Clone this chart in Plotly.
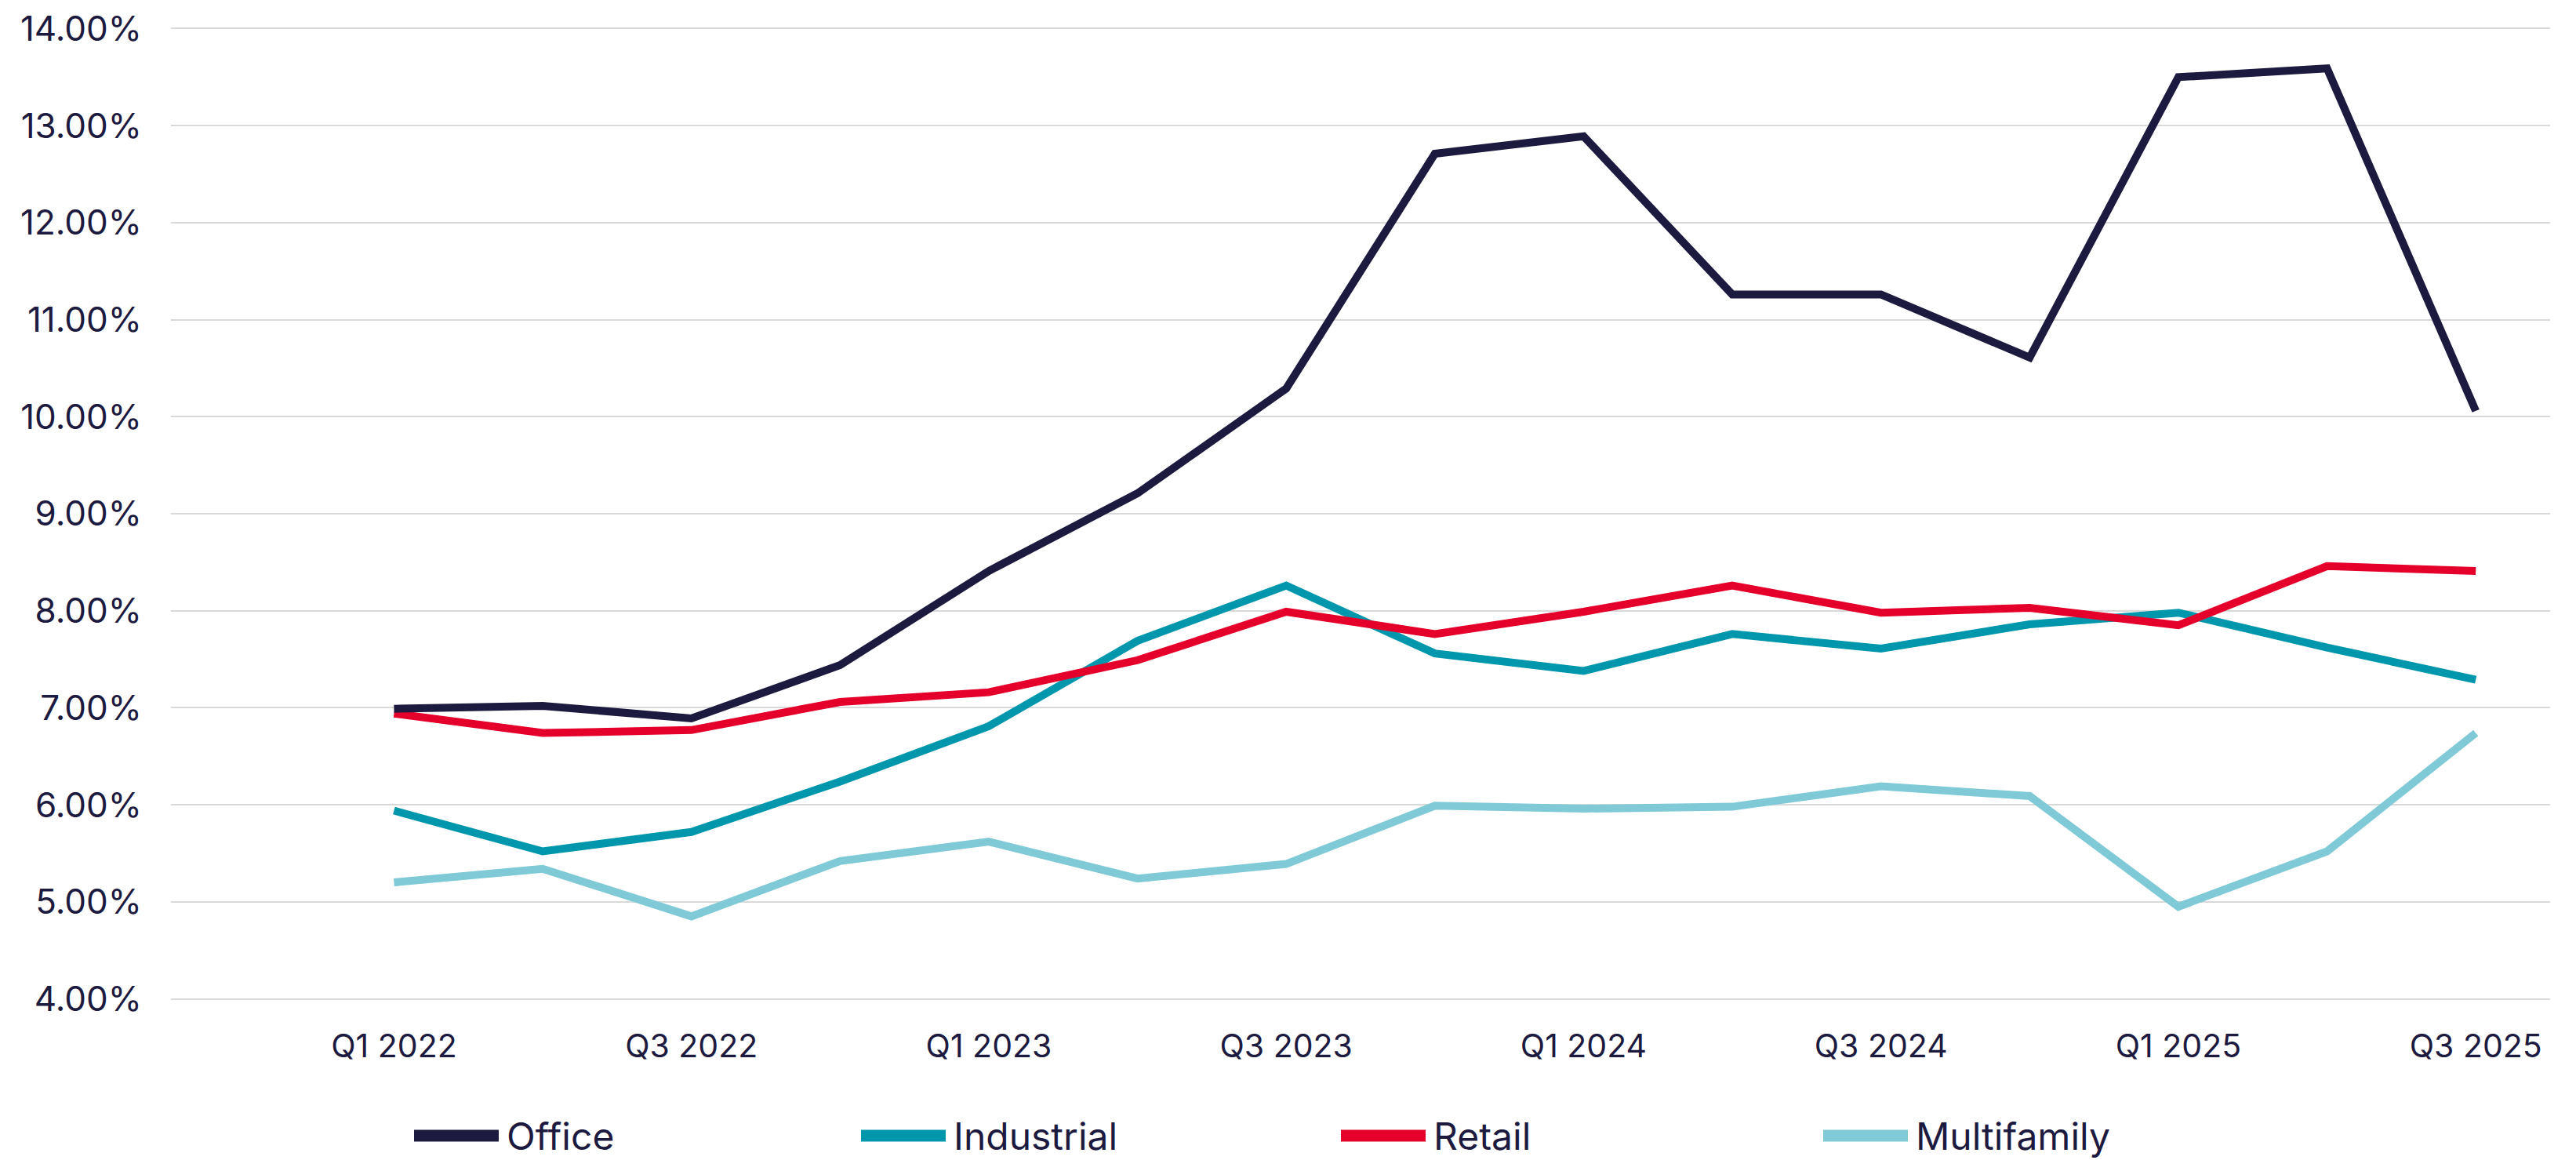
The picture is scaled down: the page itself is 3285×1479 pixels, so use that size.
import plotly.graph_objects as go

quarters = [
    "Q1 2022", "Q2 2022", "Q3 2022", "Q4 2022",
    "Q1 2023", "Q2 2023", "Q3 2023", "Q4 2023",
    "Q1 2024", "Q2 2024", "Q3 2024", "Q4 2024",
    "Q1 2025", "Q2 2025", "Q3 2025",
]
office = [6.99, 7.02, 6.89, 7.44, 8.41, 9.21, 10.29, 12.71, 12.89, 11.26, 11.26, 10.61, 13.50, 13.59, 10.06]
industrial = [5.94, 5.52, 5.72, 6.24, 6.81, 7.69, 8.26, 7.56, 7.38, 7.76, 7.61, 7.86, 7.98, 7.62, 7.29]
retail = [6.94, 6.74, 6.77, 7.06, 7.16, 7.49, 7.99, 7.76, 7.99, 8.26, 7.98, 8.03, 7.85, 8.46, 8.41]
multifamily = [5.20, 5.34, 4.85, 5.42, 5.62, 5.24, 5.39, 5.99, 5.96, 5.98, 6.19, 6.09, 4.95, 5.52, 6.74]

tick_labels = quarters[::2]
y_ticks = list(range(4, 15))
y_tick_text = [f"{v:.2f}%" for v in y_ticks]

SERIES = [
    ("Office", office, "#1d1a3f"),
    ("Industrial", industrial, "#0097ad"),
    ("Retail", retail, "#e4002b"),
    ("Multifamily", multifamily, "#7fcad6"),
]

TEXT_COLOR = "#1d1a3f"
FONT = "Inter"

W, H = 3285, 1479
OFF = 8  # default body margin of the page
# plot area edges as they should land in the screenshot
P_L, P_R, P_T, P_B = 218, 3252, 34, 1276

fig = go.Figure()

# draw order: light series first, office last so it sits on top
for name, vals, color in [SERIES[3], SERIES[1], SERIES[2], SERIES[0]]:
    fig.add_trace(go.Scatter(
        x=quarters, y=vals, name=name, mode="lines",
        line=dict(color=color, width=10),
        showlegend=False,
    ))

# manual legend: long line swatch + label, positions in screenshot pixels
legend_x = [528, 1098, 1710, 2325]
legend_y = 1448
swatch_len = 108


def px_x(p):
    return (p - P_L) / (P_R - P_L)


def px_y(p):
    return (P_B - p) / (P_B - P_T)


for (name, _, color), lx in zip(SERIES, legend_x):
    fig.add_shape(
        type="line", xref="paper", yref="paper",
        x0=px_x(lx), x1=px_x(lx + swatch_len),
        y0=px_y(legend_y), y1=px_y(legend_y),
        line=dict(color=color, width=15),
    )
    fig.add_annotation(
        xref="paper", yref="paper",
        x=px_x(lx + swatch_len + 8), y=px_y(legend_y),
        text=name, showarrow=False,
        xanchor="left", yanchor="middle",
        font=dict(family=FONT, size=48, color=TEXT_COLOR),
    )

fig.update_layout(
    width=W, height=H,
    margin=dict(l=P_L - OFF, r=W + OFF - P_R, t=P_T - OFF, b=H + OFF - P_B),
    plot_bgcolor="white",
    paper_bgcolor="white",
    font=dict(family=FONT, color=TEXT_COLOR),
    showlegend=False,
)
fig.update_xaxes(
    type="category",
    range=[-1.5, 14.5],
    tickvals=tick_labels,
    ticktext=tick_labels,
    showgrid=False,
    showline=False,
    zeroline=False,
    ticks="",
    automargin=False,
    ticklabelstandoff=30,
    tickfont=dict(family=FONT, size=41, color=TEXT_COLOR),
)
fig.update_yaxes(
    range=[3.98, 14.02],
    tickvals=y_ticks,
    ticktext=y_tick_text,
    showgrid=True,
    gridcolor="#d9d9d9",
    gridwidth=2,
    zeroline=False,
    showline=False,
    ticks="",
    automargin=False,
    ticklabelstandoff=36,
    ticklabeloverflow="allow",
    tickfont=dict(family=FONT, size=44, color=TEXT_COLOR),
)

fig.write_html("out.html")
